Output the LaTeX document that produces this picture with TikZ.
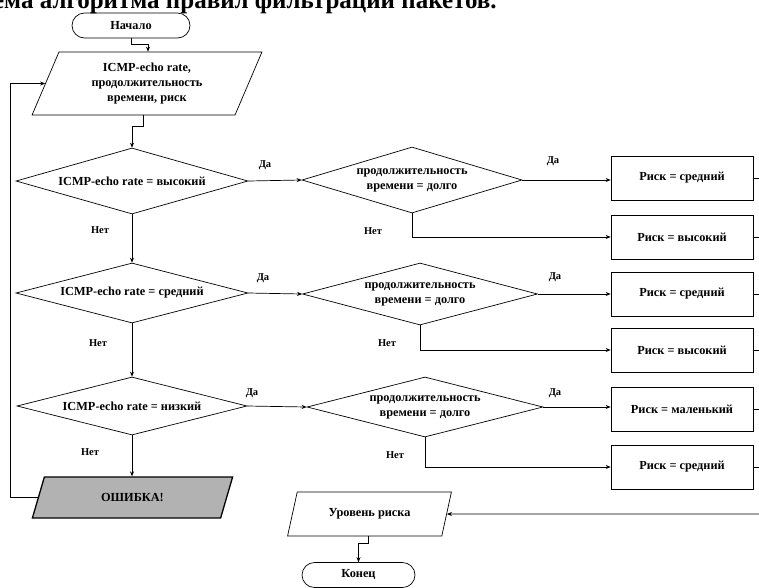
\documentclass[tikz,border=0pt]{standalone}
\usepackage{fontspec}
\setmainfont{Liberation Serif}
\usetikzlibrary{shapes.geometric,shapes.misc,arrows.meta}

\begin{document}
\begin{tikzpicture}[x=1pt,y=-1pt,
  txt/.style={font=\bfseries\fontsize{12.3}{15}\selectfont, align=center},
  lbl/.style={font=\bfseries\fontsize{10.5}{12}\selectfont, inner sep=0pt},
  conn/.style={line width=0.7pt},
  flow/.style={conn, -{Stealth[length=5pt,width=4pt]}},
  term/.style={txt, draw, line width=0.7pt, rounded rectangle, minimum height=25pt, inner sep=0pt},
  io/.style={txt, draw, line width=0.7pt, trapezium, trapezium stretches=true, inner sep=0pt},
  decide/.style={txt, draw, line width=0.7pt, diamond, aspect=3.6, inner sep=0pt},
  riskbox/.style={txt, draw, line width=0.7pt, rectangle, minimum width=142pt, minimum height=44pt, inner sep=0pt}]

\useasboundingbox (0,0) rectangle (759,587);
\clip (0,0) rectangle (759,587);

% heading
\node[anchor=base east, inner sep=0pt, font=\bfseries\fontsize{25}{27}\selectfont] (title) at (497,8)
  {Схема алгоритма правил фильтрации пакетов.};

% start and input
\node[term, minimum width=118pt] (S) at (131,25.5) {Начало};
\node[io, trapezium left angle=67.6, trapezium right angle=112.4, minimum width=230pt, minimum height=63pt]
  (P1) at (147,83.5) {ICMP-echo rate,\\продолжительность\\времени, риск};

% checks of the ICMP-echo rate
\node[decide, minimum width=232pt, minimum height=66pt] (D1) at (132,181) {ICMP-echo rate = высокий};
\node[decide, minimum width=232pt, minimum height=60pt] (D3) at (132,293) {ICMP-echo rate = средний};
\node[decide, minimum width=230pt, minimum height=58pt] (D5) at (132,406) {ICMP-echo rate = низкий};

% checks of the duration
\node[decide, minimum width=220pt, minimum height=66pt] (D2) at (412,180) {продолжительность\\времени = долго};
\node[decide, minimum width=235pt, minimum height=62pt] (D4) at (420,294) {продолжительность\\времени = долго};
\node[decide, minimum width=236pt, minimum height=60pt] (D6) at (425,407) {продолжительность\\времени = долго};

% risk results
\node[riskbox] (B1) at (682,178) {Риск = средний};
\node[riskbox] (B2) at (682,237) {Риск = высокий};
\node[riskbox] (B3) at (682,294) {Риск = средний};
\node[riskbox] (B4) at (682,350) {Риск = высокий};
\node[riskbox] (B5) at (682,409) {Риск = маленький};
\node[riskbox] (B6) at (682,467) {Риск = средний};

% error output
\node[io, trapezium left angle=62.9, trapezium right angle=117.1, minimum width=201pt, minimum height=41pt,
  fill=gray!60, line width=1.3pt] (P3) at (132.5,497.5) {ОШИБКА!};

% result output and end
\node[io, trapezium left angle=62.9, trapezium right angle=117.1, minimum width=165pt, minimum height=44pt]
  (P2) at (369.5,514) {Уровень риска};
\node[term, minimum width=113pt] (E) at (358.5,575) {Конец};

% helper points of the routed connectors
\coordinate (j1) at (148,44);
\coordinate (j2) at (143,126);
\coordinate (j3) at (368,543);
\coordinate (lp) at (10,0);
\coordinate (re) at (759,514);

% main flow
\draw[flow] (S.south) |- (j1) -- (j1 |- P1.north);
\draw[flow] (j2 |- P1.south) -- (j2) -| (D1.north);
\draw[flow] (D1.south) -- (D3.north);
\draw[flow] (D3.south) -- (D5.north);
\draw[flow] (D5.south) -- (P3.north -| D5.south);
\draw[flow] (P3.west) -- (P3.west -| lp) |- (P1.west);

% yes branches
\draw[flow] (D1.east) -- (D2.west);
\draw[flow] (D3.east) -- (D4.west);
\draw[flow] (D5.east) -- (D6.west);
\draw[flow] (D2.east) -- (D2.east -| B1.west);
\draw[flow] (D4.east) -- (D4.east -| B3.west);
\draw[flow] (D6.east) -- (D6.east -| B5.west);

% no branches
\draw[flow] (D2.south) |- (B2.west);
\draw[flow] (D4.south) |- (B4.west);
\draw[flow] (D6.south) |- (B6.west);

% collected results
\foreach \b in {B1,B2,B3,B4,B5,B6}
  \draw[conn] (\b.east) -- (\b.east -| re);
\draw[flow] (re) -- (P2.east);
\draw[flow] (j3 |- P2.south) -- (j3) -| (E.north);

% branch labels
\node[lbl] (y1) at (265,165) {Да};
\node[lbl] (y2) at (553,161) {Да};
\node[lbl] (y3) at (263,278) {Да};
\node[lbl] (y4) at (555,277) {Да};
\node[lbl] (y5) at (252,393) {Да};
\node[lbl] (y6) at (555,393) {Да};
\node[lbl] (n1) at (100,230) {Нет};
\node[lbl] (n2) at (373,231) {Нет};
\node[lbl] (n3) at (98,343) {Нет};
\node[lbl] (n4) at (387,343) {Нет};
\node[lbl] (n5) at (90,452) {Нет};
\node[lbl] (n6) at (395,455) {Нет};
\end{tikzpicture}
\end{document}
